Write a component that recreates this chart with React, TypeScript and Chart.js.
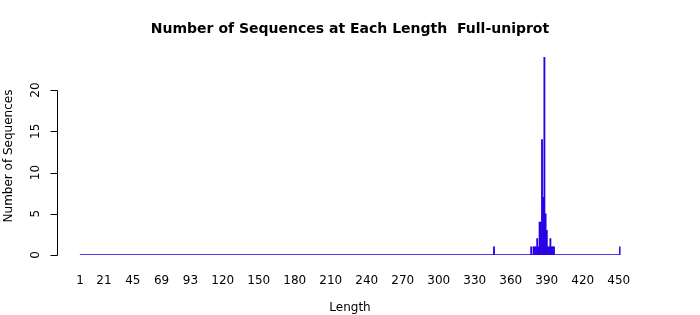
import React, { useEffect, useRef } from 'react';
import { Chart, registerables } from 'chart.js';

Chart.register(...registerables);

const chartTitle = 'Number of Sequences at Each Length  Full-uniprot';
const xAxisTitle = 'Length';
const yAxisTitle = 'Number of Sequences';

// Sequence lengths run from 1 to 451; only these lengths have non-zero counts.
const maxLength = 451;
const observedLengths = [346, 377, 379, 380, 381, 382, 383, 384, 385, 386, 387, 388, 389, 390, 391, 392, 393, 394, 395, 396, 451];
const observedCounts = [1, 1, 1, 1, 1, 2, 1, 4, 4, 14, 7, 24, 5, 3, 1, 1, 2, 1, 1, 1, 1];

const xTickLabels = ['1', '21', '45', '69', '93', '120', '150', '180', '210', '240', '270', '300', '330', '360', '390', '420', '450'];
const yTickValues = [0, 5, 10, 15, 20];
const yMax = 24;

const FONT = "'DejaVu Sans', sans-serif";
const BAR_COLOR = '#2a00e6';
const BASE_COLOR = '#2a2af0';

const rAxisPlugin = {
  id: 'rStyleYAxis',
  afterDraw(chart: any) {
    const y = chart.scales.y;
    const ctx = chart.ctx;
    const x0 = 57.5;
    ctx.save();
    ctx.strokeStyle = '#000';
    ctx.lineWidth = 1;
    ctx.beginPath();
    const top = Math.round(y.getPixelForValue(yTickValues[yTickValues.length - 1])) + 0.5;
    const bot = Math.round(y.getPixelForValue(yTickValues[0])) + 0.5;
    ctx.moveTo(x0, top);
    ctx.lineTo(x0, bot);
    for (const v of yTickValues) {
      const py = Math.round(y.getPixelForValue(v)) + 0.5;
      ctx.moveTo(x0, py);
      ctx.lineTo(x0 - 7, py);
    }
    ctx.stroke();
    ctx.restore();
  },
};

export default function App() {
  const ref = useRef<HTMLCanvasElement | null>(null);

  useEffect(() => {
    if (!ref.current) return;
    const categories = Array.from({ length: maxLength }, (_, i) => String(i + 1));
    const counts = categories.map((c) => {
      const idx = observedLengths.indexOf(Number(c));
      return idx >= 0 ? observedCounts[idx] : 0;
    });
    const baseline = categories.map(() => 0);

    const chart = new Chart(ref.current, {
      type: 'bar',
      data: {
        labels: categories,
        datasets: [
          {
            type: 'line',
            data: baseline,
            borderColor: BASE_COLOR,
            borderWidth: 1.6,
            pointRadius: 0,
            order: 2,
          } as any,
          {
            type: 'bar',
            data: counts,
            backgroundColor: BAR_COLOR,
            borderWidth: 0,
            barPercentage: 1,
            categoryPercentage: 1,
            order: 1,
          },
        ],
      },
      options: {
        responsive: false,
        animation: false,
        layout: { padding: 0 },
        plugins: {
          legend: { display: false },
          tooltip: { enabled: false },
          title: {
            display: true,
            text: chartTitle,
            color: '#000',
            font: { family: FONT, size: 14, weight: 'bold' },
            padding: { top: 20.5, bottom: 19.7 },
          },
        },
        scales: {
          x: {
            type: 'category',
            grid: { display: false },
            border: { display: false },
            ticks: {
              autoSkip: false,
              maxRotation: 0,
              minRotation: 0,
              color: '#000',
              font: { family: FONT, size: 12 },
              padding: 11,
            },
            afterBuildTicks: (scale: any) => {
              scale.ticks = scale.ticks.filter((t: any) => xTickLabels.includes(categories[t.value]));
            },
            afterFit: (scale: any) => {
              scale.height = 60;
            },
            title: {
              display: true,
              text: xAxisTitle,
              color: '#000',
              font: { family: FONT, size: 12 },
              padding: { top: 0, bottom: 0 },
            },
          },
          y: {
            type: 'linear',
            position: 'left',
            min: 0,
            max: yMax,
            grid: { display: false },
            border: { display: false },
            ticks: {
              stepSize: 5,
              minRotation: 90,
              maxRotation: 90,
              crossAlign: 'center',
              color: '#000',
              font: { family: FONT, size: 12 },
              padding: 28,
            },
            afterBuildTicks: (scale: any) => {
              scale.ticks = scale.ticks.filter((t: any) => yTickValues.includes(t.value));
            },
            afterFit: (scale: any) => {
              scale.width = 79.4;
            },
            title: {
              display: true,
              text: yAxisTitle,
              color: '#000',
              font: { family: FONT, size: 12 },
              padding: { top: 2, bottom: 0 },
            },
          },
          yRight: {
            type: 'linear',
            position: 'right',
            display: true,
            min: 0,
            max: 1,
            grid: { display: false },
            border: { display: false },
            ticks: { display: false },
            afterFit: (scale: any) => {
              scale.width = 79.4;
            },
          },
        },
      },
      plugins: [rAxisPlugin],
    });
    return () => chart.destroy();
  }, []);

  return (
    <canvas
      ref={ref}
      width={700}
      height={315}
      style={{ position: 'fixed', left: 0, top: 0, width: 700, height: 315, display: 'block', background: '#fff' }}
    />
  );
}
